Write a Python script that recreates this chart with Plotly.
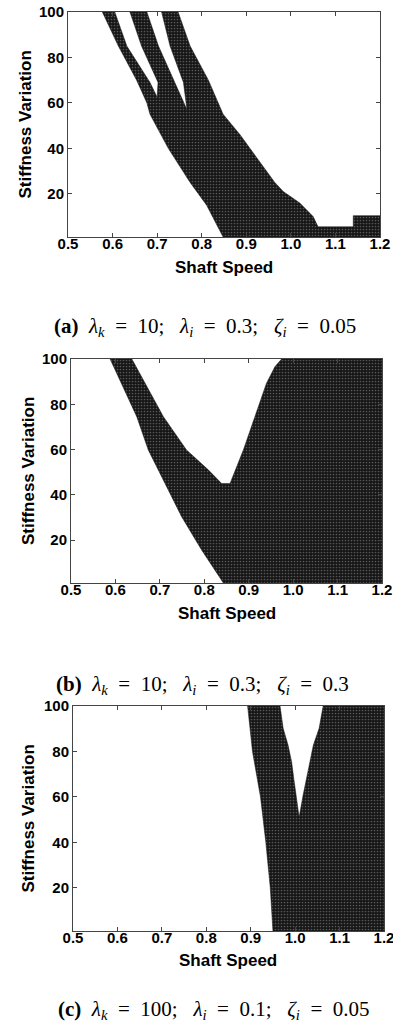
import plotly.graph_objects as go

# ---------------- data ----------------
# Panel (a): lambda_k=10, lambda_i=0.3, zeta_i=0.05
a_left_y = [100, 85, 70, 60, 55, 40, 25, 15, 1]
a_left_x = [0.577, 0.613, 0.654, 0.677, 0.684, 0.725, 0.774, 0.811, 0.848]
a_gap1_l_y = [100, 85, 69, 62.5]
a_gap1_l_x = [0.605, 0.632, 0.684, 0.700]
a_gap1_r_y = [69, 85, 100]
a_gap1_r_x = [0.702, 0.665, 0.639]
a_gap2_l_y = [100, 85, 69, 57]
a_gap2_l_x = [0.677, 0.703, 0.740, 0.767]
a_gap2_r_y = [69, 85, 100]
a_gap2_r_x = [0.759, 0.729, 0.710]
a_right_y = [100, 85, 70, 55, 46, 36, 25, 21, 16, 10, 5.5, 5.5, 10.4, 10.4, 1]
a_right_x = [0.747, 0.774, 0.815, 0.848, 0.886, 0.923, 0.964, 0.983, 1.02, 1.05, 1.061, 1.14, 1.14, 1.2, 1.2]

# Panel (b): lambda_k=10, lambda_i=0.3, zeta_i=0.3
b_left_y = [100, 89.3, 74.5, 59.8, 45, 30.3, 15.6, 1]
b_left_x = [0.588, 0.614, 0.648, 0.674, 0.712, 0.749, 0.794, 0.843]
b_v_l_y = [100, 89.3, 74.5, 59.8, 51, 45]
b_v_l_x = [0.637, 0.667, 0.708, 0.760, 0.809, 0.839]
b_v_r_y = [45, 59.8, 74.5, 89.3, 96.6, 100]
b_v_r_x = [0.858, 0.888, 0.914, 0.940, 0.959, 0.974]

# Panel (c): lambda_k=100, lambda_i=0.1, zeta_i=0.05
c_left_y = [100, 90, 80, 60, 40, 20, 1]
c_left_x = [0.893, 0.898, 0.904, 0.922, 0.934, 0.944, 0.950]
c_v_l_y = [100, 90.2, 82.8, 75.5, 68, 60.8, 51]
c_v_l_x = [0.966, 0.973, 0.984, 0.992, 0.997, 1.002, 1.009]
c_v_r_y = [60.8, 68, 75.5, 82.8, 90.2, 100]
c_v_r_x = [1.018, 1.025, 1.033, 1.041, 1.054, 1.063]

x_ticks = [0.5, 0.6, 0.7, 0.8, 0.9, 1.0, 1.1, 1.2]
y_ticks = [20, 40, 60, 80, 100]
x_range = [0.5, 1.2]
y_range = [1, 100]
x_title = "Shaft Speed"
y_title = "Stiffness Variation"
panel_tags = ["(a)", "(b)", "(c)"]
lambda_k = ["10", "10", "100"]
lambda_i = ["0.3", "0.3", "0.1"]
zeta_i = ["0.05", "0.3", "0.05"]

S = "&nbsp;"
def caption(tag, lk, li, zi):
    eq = S + S + "=" + S + S
    return ("<b>" + tag + "</b>" + S * 2 +
            "<i>λ</i><sub><i>k</i></sub>" + eq + lk + ";" + S * 3 +
            "<i>λ</i><sub><i>i</i></sub>" + eq + li + ";" + S * 3 +
            "<i>ζ</i><sub><i>i</i></sub>" + eq + zi)

# ---------------- polygons built from boundaries ----------------
def rev(v):
    return list(reversed(v))

poly_a_x = (a_gap1_l_x + a_gap1_r_x + a_gap2_l_x + a_gap2_r_x + a_right_x + rev(a_left_x))
poly_a_y = (a_gap1_l_y + a_gap1_r_y + a_gap2_l_y + a_gap2_r_y + a_right_y + rev(a_left_y))

poly_b_x = b_v_l_x + b_v_r_x + [x_range[1], x_range[1]] + rev(b_left_x)
poly_b_y = b_v_l_y + b_v_r_y + [y_range[1], y_range[0]] + rev(b_left_y)

poly_c_x = c_v_l_x + c_v_r_x + [x_range[1], x_range[1]] + rev(c_left_x)
poly_c_y = c_v_l_y + c_v_r_y + [y_range[1], y_range[0]] + rev(c_left_y)

W, H = 393, 1023
# plot areas in pixels: (left, right, top, bottom)
boxes = [(68, 380, 12, 237), (71, 382, 359, 583), (73, 384, 706, 931)]
xtitle_y = [267, 613, 960]
ytitle_x = [25, 28, 28]
caption_pos = [(205, 327), (202, 685), (213, 1010)]

fig = go.Figure()
polys = [(poly_a_x, poly_a_y), (poly_b_x, poly_b_y), (poly_c_x, poly_c_y)]
SANS = "Liberation Sans, Arial, sans-serif"

for i, ((px, py), (l, r, t, b)) in enumerate(zip(polys, boxes)):
    n = "" if i == 0 else str(i + 1)
    fig.add_trace(go.Scatter(
        x=px, y=py, mode="lines", fill="toself",
        line=dict(width=0.5, color="#111"),
        fillcolor="#1a1a1a",
        fillpattern=dict(shape=".", bgcolor="#151515", fgcolor="#9a9a9a", size=3, solidity=0.25),
        xaxis="x" + n, yaxis="y" + n, hoverinfo="skip", showlegend=False,
    ))
    common = dict(showline=True, linecolor="#444", linewidth=1, mirror="ticks", automargin=False,
                  ticks="inside", ticklen=4, tickcolor="#444", showgrid=False, zeroline=False,
                  ticklabeloverflow="allow",
                  tickfont=dict(family=SANS, size=15, color="#000", weight="bold"))
    fig.update_layout(**{
        "xaxis" + n: dict(domain=[l / W, r / W], range=x_range, tickvals=x_ticks, tickformat=".1f",
                          anchor="y" + n, ticklabelstandoff=-7, **common),
        "yaxis" + n: dict(domain=[1 - b / H, 1 - t / H], range=y_range, tickvals=y_ticks,
                          anchor="x" + n, **common),
    })
    fig.add_annotation(text="<b>" + x_title + "</b>", xref="paper", yref="paper",
                       x=(l + r) / 2 / W, y=1 - xtitle_y[i] / H, showarrow=False,
                       font=dict(family=SANS, size=17, color="#000"),
                       xanchor="center", yanchor="middle")
    fig.add_annotation(text="<b>" + y_title + "</b>", xref="paper", yref="paper",
                       x=ytitle_x[i] / W, y=1 - (t + b) / 2 / H, showarrow=False, textangle=-90,
                       font=dict(family=SANS, size=17, color="#000"),
                       xanchor="center", yanchor="middle")
    cx, cy = caption_pos[i]
    fig.add_annotation(text=caption(panel_tags[i], lambda_k[i], lambda_i[i], zeta_i[i]),
                       xref="paper", yref="paper",
                       x=cx / W, y=1 - cy / H, showarrow=False,
                       font=dict(family="Liberation Serif, Times New Roman, serif", size=21, color="#000"),
                       xanchor="center", yanchor="middle")

fig.update_layout(width=W, height=H, margin=dict(l=0, r=0, t=0, b=0, autoexpand=False),
                  paper_bgcolor="white", plot_bgcolor="white", showlegend=False)
fig.write_html("out.html")
